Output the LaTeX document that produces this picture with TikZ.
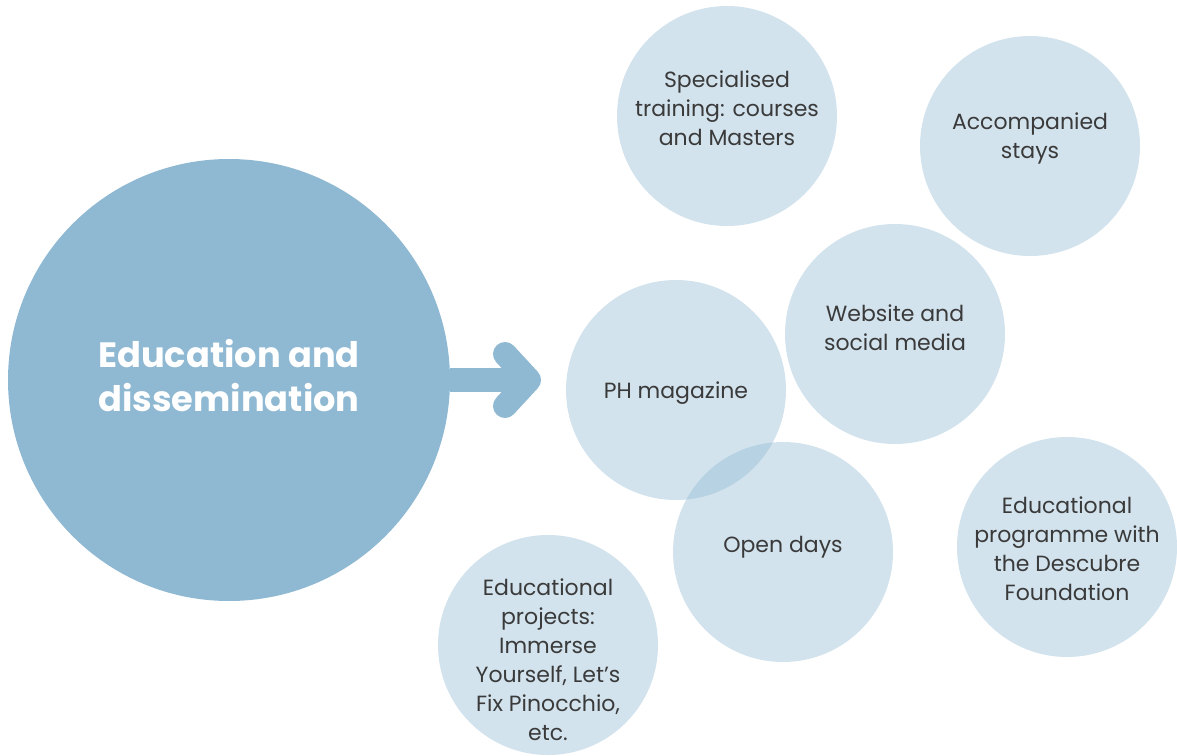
\documentclass[tikz,border=0pt]{standalone}
\usepackage{fontspec}
\setmainfont{Poppins}
\usetikzlibrary{positioning}

\definecolor{bigblue}{HTML}{8FB8D2}
\definecolor{txtgray}{HTML}{3A3A3A}

\tikzset{
  bigc/.style={circle, fill=bigblue, minimum size=221pt, inner sep=0pt},
  bigtxt/.style={text=white, font=\fontsize{17.6}{22}\selectfont\bfseries, align=center},
  bubble/.style={circle, fill=bigblue, fill opacity=0.4,
    minimum size=110pt, inner sep=0pt},
  bubtxt/.style={text=txtgray, inner sep=0pt,
    font=\fontsize{11}{14.5}\selectfont, align=center},
  fatarrow/.style={bigblue, line width=12pt}
}

\begin{document}
\begin{tikzpicture}[x=0.5pt, y=-0.5pt]
        \useasboundingbox (0,0) rectangle (1177,755);

        % main circle
        \node[bigc, label={[bigtxt, yshift=2pt]center:Education and\\dissemination}] (edu) at (229,380) {};

        % bubbles
        \node[bubble, label={[bubtxt, yshift=4pt]center:Specialised\\training: courses\\and Masters}] (train) at (727,116) {};
        \node[bubble, label={[bubtxt, yshift=4pt]center:Accompanied\\stays}] (stays) at (1030,146) {};
        \node[bubble, label={[bubtxt, yshift=3pt]center:Website and\\social media}] (web) at (895,334) {};
        \node[bubble, label={[bubtxt, yshift=-1.5pt]center:PH magazine}] (mag) at (676,390) {};
        \node[bubble, label={[bubtxt, yshift=2.5pt]center:Open days}] (open) at (783,552) {};
        \node[bubble, label={[bubtxt, yshift=-1pt]center:Educational\\programme with\\the Descubre\\Foundation}] (prog) at (1067,547) {};
        \node[bubble, label={[bubtxt, yshift=-7.5pt]center:Educational\\projects:\\Immerse\\Yourself, Let’s\\Fix Pinocchio,\\etc.}] (proj) at (548,645) {};

        % arrow
        \coordinate (tip) at (529,380);
        \draw[fatarrow] (edu.east) -- (tip);
        \draw[fatarrow, line cap=round, line join=round] (505,354) -- (tip) -- (505,406);
\end{tikzpicture}
\end{document}
